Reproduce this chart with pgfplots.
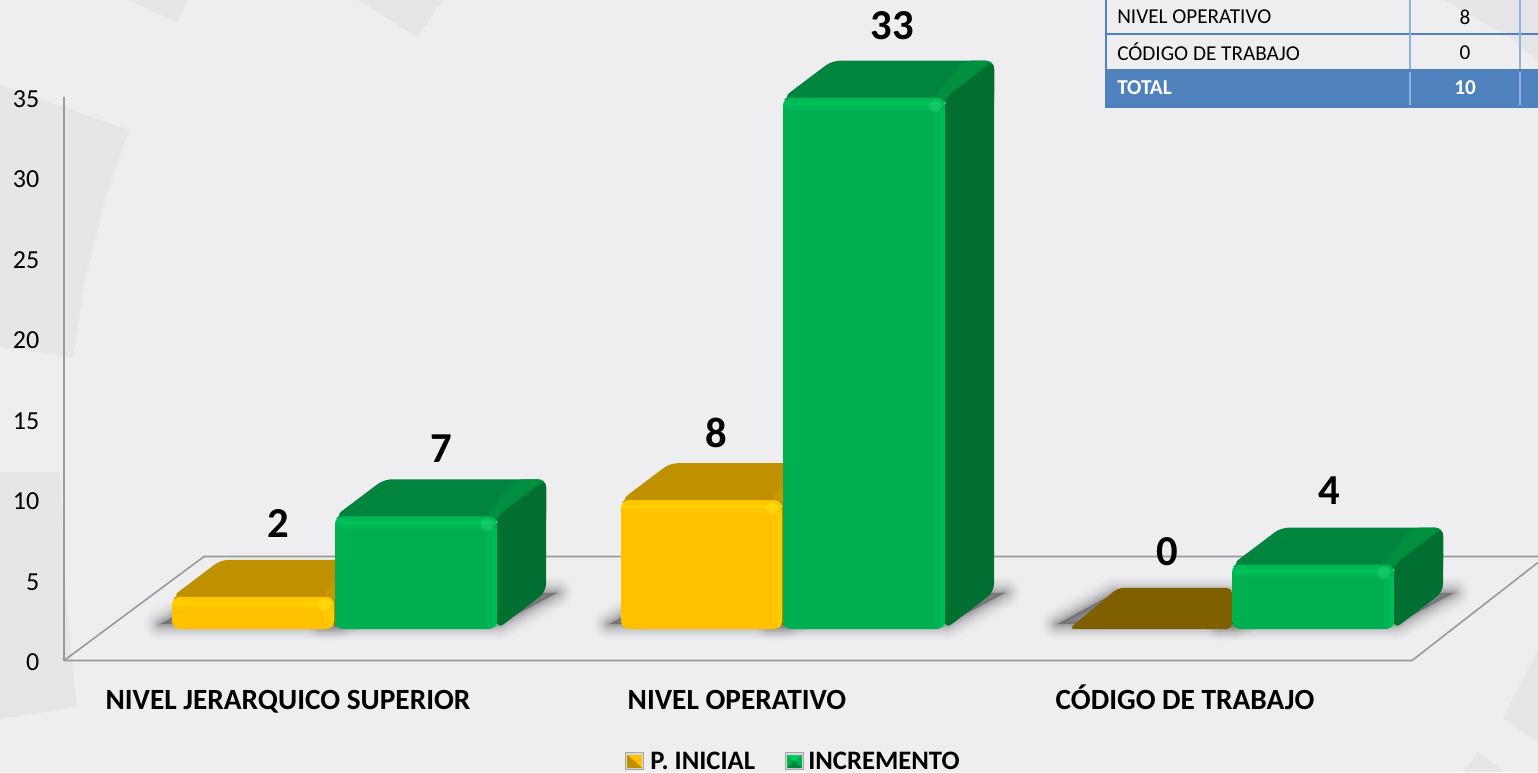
\documentclass[border=0pt]{standalone}
\usepackage{fontspec}
\setmainfont{Carlito}
\usepackage{pgfplots}
\pgfplotsset{compat=1.18}
\definecolor{bg}{HTML}{EEEEF1}
\definecolor{bgs}{HTML}{E6E6E9}
\definecolor{floorline}{HTML}{9A9A9A}
\definecolor{tblue}{HTML}{4F81BD}
\definecolor{tlight}{HTML}{8DB3E2}
\definecolor{gfront}{HTML}{00B050}
\definecolor{gband}{HTML}{00CC62}
\definecolor{gspot}{HTML}{30E080}
\definecolor{gtop}{HTML}{00843E}
\definecolor{gtopl}{HTML}{008F40}
\definecolor{gside}{HTML}{006F30}
\definecolor{yfront}{HTML}{FFC000}
\definecolor{yband}{HTML}{FFD800}
\definecolor{yspot}{HTML}{FFF020}
\definecolor{ytop}{HTML}{BF9000}
\definecolor{ytopl}{HTML}{C99800}
\definecolor{yside}{HTML}{A87E00}
\definecolor{brown}{HTML}{7F6000}
\newcommand\Poly[2]{\addplot[fill=#1,draw=none,mark=none] coordinates {#2} -- cycle;}
\newcommand\ShLayer[2]{\addplot[fill=black,draw=black,line width=#1,line join=round,opacity=#2,mark=none] coordinates {(\sa,0.3)(\sb,0.3)(\sc,2.25)(\sd,2.25)} -- cycle;}
\newcommand\Shadow[2]{%
  \pgfmathsetmacro\sa{#1-12}\pgfmathsetmacro\sb{#2+2}\pgfmathsetmacro\sc{#2+60}\pgfmathsetmacro\sd{#1+46}%
  \ShLayer{24pt}{.015}\ShLayer{21pt}{.02}\ShLayer{18pt}{.025}\ShLayer{15pt}{.03}\ShLayer{12pt}{.04}\ShLayer{9pt}{.05}\ShLayer{6pt}{.065}\ShLayer{3pt}{.08}
}
% \Bar{x0}{x1}{value}{front}{band}{top}{top light}{side}{spot}
\newcommand\Bar[9]{%
  \pgfmathsetmacro\xc{#1+49}\pgfmathsetmacro\xd{#2+49}\pgfmathsetmacro\vt{#3+2.3}%
  \pgfmathsetmacro\xe{#2+19}\pgfmathsetmacro\xf{#2-12}\pgfmathsetmacro\xg{#2-10}\pgfmathsetmacro\xi{#2-5}\pgfmathsetmacro\vb{#3-0.75}\pgfmathsetmacro\vc{#3-0.5}\pgfmathsetmacro\vs{#3-0.3}%
  \pgfmathsetmacro\pa{#1+1}\pgfmathsetmacro\pb{#1+15}\pgfmathsetmacro\pc{#1+30}\pgfmathsetmacro\va{#3-0.15}\pgfmathsetmacro\vd{#3+0.68}%
  \pgfmathsetmacro\sx{#2-16}\pgfmathsetmacro\sy{#2-4}\pgfmathsetmacro\vp{#3-0.15}\pgfmathsetmacro\vq{#3-0.9}%
  \addplot[fill=#6,draw=none,mark=none,rounded corners=6pt] coordinates {(#1,#3)(\xc,\vt)(\xd,\vt)(\xd,\vs)(#2,\vs)} -- cycle;
  \addplot[fill=#6,draw=none,mark=none] coordinates {(\pa,\va)(\pb,\vd)(\pc,#3)} -- cycle;
  \addplot[fill=#7,draw=none,mark=none,rounded corners=6pt] coordinates {(\xf,#3)(\xe,\vt)(\xd,\vt)(\xd,\vb)(#2,#3)} -- cycle;
  \addplot[fill=#8,draw=none,mark=none,rounded corners=6pt] coordinates {(#2,-0.01)(\xd,2.3)(\xd,\vt)(#2,#3)} -- cycle;
  \addplot[fill=#4,draw=none,mark=none,rounded corners=6pt] coordinates {(#1,0)(#2,0)(#2,#3)(#1,#3)} -- cycle;
  \addplot[fill=#5,draw=none,mark=none,rounded corners=5pt,opacity=.3] coordinates {(#1,\vb)(#2,\vb)(#2,#3)(#1,#3)} -- cycle;
  \addplot[fill=#5,draw=none,mark=none,rounded corners=2pt,opacity=.5] coordinates {(#1,\vc)(#2,\vc)(#2,\vs)(#1,\vs)} -- cycle;
  \addplot[fill=#5,draw=none,mark=none,rounded corners=3pt,opacity=.25] coordinates {(\xg,0.05)(#2,0.05)(#2,\vb)(\xg,\vb)} -- cycle;
  \addplot[fill=#5,draw=none,mark=none,opacity=.25] coordinates {(\xi,0.1)(#2,0.1)(#2,\vb)(\xi,\vb)} -- cycle;
  \addplot[fill=#9,draw=none,mark=none,rounded corners=4pt,opacity=.35] coordinates {(\sx,\vq)(\sy,\vq)(\sy,\vp)(\sx,\vp)} -- cycle;
}
\begin{document}
\begin{tikzpicture}
\useasboundingbox (0,0) rectangle (1153.5pt,579pt);
% ---- page, background shapes, table, legend (pixel coordinates)
\begin{axis}[at={(0,0)},anchor=south west,scale only axis,width=1153.5pt,height=579pt,
  xmin=0,xmax=1538,ymin=0,ymax=772,y dir=reverse,hide axis,clip=true]
\Poly{bg}{(0,0)(1538,0)(1538,772)(0,772)}
\addplot[fill=bgs,draw=none,mark=none] coordinates {(0,85)(129,130)(105,200)(85,280)(73,357)(0,347)} -- cycle;
\addplot[fill=bgs,draw=none,mark=none] coordinates {(0,472)(60,472)(66,600)(77,707)(0,719)} -- cycle;
\Poly{bgs}{(127,0)(188,0)(177,22)}
\Poly{bgs}{(358,0)(443,0)(417,37)}
\Poly{bgs}{(1445,0)(1538,0)(1538,62)(1510,38)}
\Poly{bgs}{(1538,650)(1503,718)(1538,742)}
\Poly{bgs}{(1463,772)(1478,752)(1505,772)}
% table
\Poly{tblue}{(1105,69)(1538,69)(1538,108)(1105,108)}
\addplot[tblue,line width=1.5pt,mark=none] coordinates {(1106,0)(1106,108)};
\addplot[tblue,line width=1.3pt,mark=none] coordinates {(1106,34)(1538,34)};
\addplot[tlight,line width=1.5pt,mark=none] coordinates {(1410,0)(1410,69)};
\addplot[tlight,line width=1.5pt,mark=none] coordinates {(1520,0)(1520,69)};
\addplot[tlight,line width=1.5pt,mark=none] coordinates {(1410,72)(1410,105)};
\addplot[tlight,line width=1.5pt,mark=none] coordinates {(1520,72)(1520,105)};
\node[anchor=west,inner sep=0,font=\fontsize{15.9pt}{17pt}\selectfont] at (axis cs:1117,17) {NIVEL OPERATIVO};
\node[anchor=base west,inner sep=0,font=\fontsize{15.9pt}{17pt}\selectfont] at (axis cs:1117,60) {CÓDIGO DE TRABAJO};
\node[anchor=west,inner sep=0,text=white,font=\fontsize{15.9pt}{17pt}\selectfont\bfseries] at (axis cs:1117,88) {TOTAL};
\node[inner sep=0,font=\fontsize{15.9pt}{17pt}\selectfont] at (axis cs:1465,17) {8};
\node[inner sep=0,font=\fontsize{15.9pt}{17pt}\selectfont] at (axis cs:1465,53) {0};
\node[inner sep=0,text=white,font=\fontsize{15.9pt}{17pt}\selectfont\bfseries] at (axis cs:1465,88) {10};
% legend
\Poly{black!35}{(625,752)(644,752)(644,770)(625,770)}
\Poly{white!85!black}{(626,753)(643,753)(643,769)(626,769)}
\Poly{yfront}{(627,755)(642,755)(642,768)(627,768)}
\Poly{ytop}{(627,768)(642,768)(634.5,761)}
\Poly{ytop}{(627,755)(627,768)(634.5,761)}
\Poly{black!35}{(785,752)(804,752)(804,770)(785,770)}
\Poly{white!85!black}{(786,753)(803,753)(803,769)(786,769)}
\Poly{gfront}{(787,755)(802,755)(802,768)(787,768)}
\Poly{gtop}{(787,768)(802,768)(794.5,761)}
\Poly{gband}{(787,755)(802,755)(794.5,761)}
\node[anchor=base west,inner sep=0,font=\fontsize{20pt}{22pt}\selectfont\bfseries] at (axis cs:650,769) {P. INICIAL};
\node[anchor=base west,inner sep=0,font=\fontsize{20pt}{22pt}\selectfont\bfseries] at (axis cs:808,769) {INCREMENTO};
\end{axis}
% ---- value axis with the floor
\begin{axis}[at={(48pt,83.6pt)},anchor=south west,scale only axis,width=1105.5pt,height=422.6pt,
  xmin=64,xmax=1538,ymin=0,ymax=35,clip=false,
  axis y line*=left,axis x line*=bottom,
  axis line style={draw=floorline,line width=1.2pt},
  x axis line style={draw=none},
  major tick length=0pt,
  ytick={0,5,...,35},
  xtick={288,737,1185},
  xticklabels={NIVEL JERARQUICO SUPERIOR,NIVEL OPERATIVO,CÓDIGO DE TRABAJO},
  /pgf/number format/assume math mode=true,
  ticklabel style={text=black},
  yticklabel style={font=\fontsize{19.5pt}{21pt}\selectfont,anchor=east,xshift=-15pt,yshift=-1.5pt},
  xticklabel style={font=\fontsize{22pt}{24pt}\selectfont\bfseries,anchor=base,yshift=-36.4pt},
]
\addplot[floorline,line width=1.2pt,mark=none] coordinates {(64,0)(1412,0)(1538,6.09)};
\addplot[floorline,line width=1.2pt,mark=none] coordinates {(64,0)(204,6.46)(1538,6.46)};
\end{axis}
% ---- bars
\begin{axis}[at={(0,0)},anchor=south west,scale only axis,width=1153.5pt,height=579pt,
  xmin=0,xmax=1538,ymin=-8.882,ymax=39.068,hide axis,clip=true]
\Shadow{172}{334}
\Shadow{335}{497}
\Shadow{621}{782}
\Shadow{783}{945}
\Shadow{1069}{1232}
\Shadow{1232}{1394}
\Bar{172}{334}{2}{yfront}{yband}{ytop}{ytopl}{yside}{yspot}
\Bar{335}{497}{7}{gfront}{gband}{gtop}{gtopl}{gside}{gspot}
\Bar{621}{782}{8}{yfront}{yband}{ytop}{ytopl}{yside}{yspot}
\Bar{783}{945}{33}{gfront}{gband}{gtop}{gtopl}{gside}{gspot}
\addplot[fill=brown,draw=none,mark=none,rounded corners=4pt] coordinates {(1069,0)(1232,0)(1232,2.55)(1118,2.55)} -- cycle;
\Bar{1232}{1394}{4}{gfront}{gband}{gtop}{gtopl}{gside}{gspot}
\node[font=\fontsize{32pt}{34pt}\selectfont\bfseries,inner sep=0] at (axis cs:278,6.53) {2};
\node[font=\fontsize{32pt}{34pt}\selectfont\bfseries,inner sep=0] at (axis cs:441,11.18) {7};
\node[font=\fontsize{32pt}{34pt}\selectfont\bfseries,inner sep=0] at (axis cs:716,12.17) {8};
\node[font=\fontsize{32pt}{34pt}\selectfont\bfseries,inner sep=0] at (axis cs:892,37.45) {33};
\node[font=\fontsize{32pt}{34pt}\selectfont\bfseries,inner sep=0] at (axis cs:1167,4.78) {0};
\node[font=\fontsize{32pt}{34pt}\selectfont\bfseries,inner sep=0] at (axis cs:1329,8.57) {4};
\end{axis}
\end{tikzpicture}
\end{document}
